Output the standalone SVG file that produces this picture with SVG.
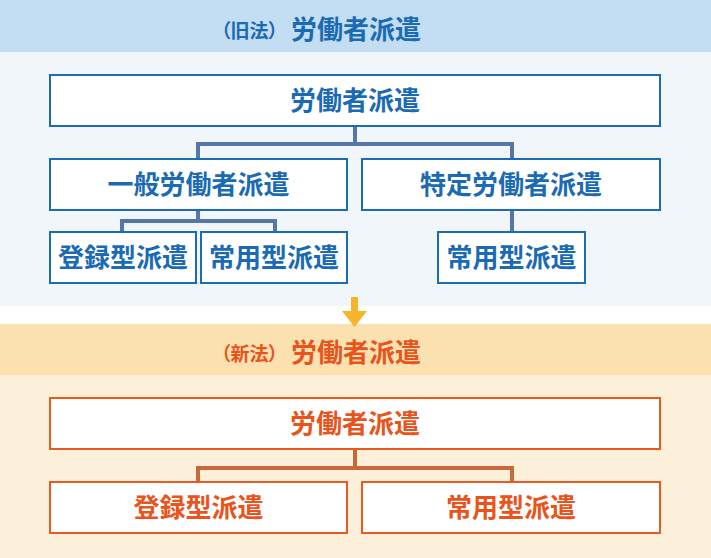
<svg xmlns="http://www.w3.org/2000/svg" width="711" height="558" viewBox="0 0 711 558">
<style>
text{font-family:"Noto Sans CJK JP","Noto Sans CJK SC",sans-serif;font-weight:700;}
.bt{font-size:26px;text-anchor:middle;}
.hd{font-size:26px;}
.sm{font-size:19px;font-feature-settings:"palt";}
.b rect{fill:#ffffff;stroke:#1a6cb5;stroke-width:2;}
.b text{fill:#1a6ab4;}
.o rect{fill:#ffffff;stroke:#ea5a1e;stroke-width:2;}
.o text{fill:#e8541c;}
.cb path{fill:none;stroke:#5675a9;stroke-width:4;}
.co path{fill:none;stroke:#c8693a;stroke-width:4;}
</style>
<rect x="0" y="0" width="711" height="52" fill="#c3ddf2"/>
<rect x="0" y="52" width="711" height="254" fill="#f1f6fb"/>
<rect x="0" y="324" width="711" height="51" fill="#fce1b0"/>
<rect x="0" y="375" width="711" height="183" fill="#fdf0da"/>
<polygon points="351,297 358,297 358,311 367,311 354.5,327 342,311 351,311" fill="#f7b52c"/>
<g id="header-old">
<text class="sm" x="221" y="38" fill="#1a6ab4">（旧法）</text>
<text class="hd" x="291" y="39" fill="#1a6ab4">労働者派遣</text>
</g>
<g id="header-new">
<text class="sm" x="221" y="361" fill="#e8541c">（新法）</text>
<text class="hd" x="291" y="362" fill="#e8541c">労働者派遣</text>
</g>
<g id="connectors-old" class="cb">
<path d="M355,126V144"/>
<path d="M198,159V144H512V159"/>
<path d="M198,210V221"/>
<path d="M122,232V221H275V232"/>
<path d="M512,210V232"/>
</g>
<g id="connectors-new" class="co">
<path d="M355,449V468"/>
<path d="M198,482V468H512V482"/>
</g>
<g id="old-root" class="b"><rect x="50" y="75" width="610" height="51"/><text class="bt" x="355" y="110">労働者派遣</text></g>
<g id="old-general" class="b"><rect x="50" y="159" width="297" height="51"/><text class="bt" x="198.5" y="194">一般労働者派遣</text></g>
<g id="old-specific" class="b"><rect x="362" y="159" width="298" height="51"/><text class="bt" x="511" y="194">特定労働者派遣</text></g>
<g id="old-registered" class="b"><rect x="50" y="232" width="146" height="51"/><text class="bt" x="123" y="267">登録型派遣</text></g>
<g id="old-regular1" class="b"><rect x="201" y="232" width="146" height="51"/><text class="bt" x="274" y="267">常用型派遣</text></g>
<g id="old-regular2" class="b"><rect x="438" y="232" width="147" height="51"/><text class="bt" x="511.5" y="267">常用型派遣</text></g>
<g id="new-root" class="o"><rect x="50" y="398" width="610" height="51"/><text class="bt" x="355" y="433">労働者派遣</text></g>
<g id="new-registered" class="o"><rect x="50" y="482" width="297" height="51"/><text class="bt" x="198.5" y="517">登録型派遣</text></g>
<g id="new-regular" class="o"><rect x="362" y="482" width="298" height="51"/><text class="bt" x="511" y="517">常用型派遣</text></g>
</svg>
